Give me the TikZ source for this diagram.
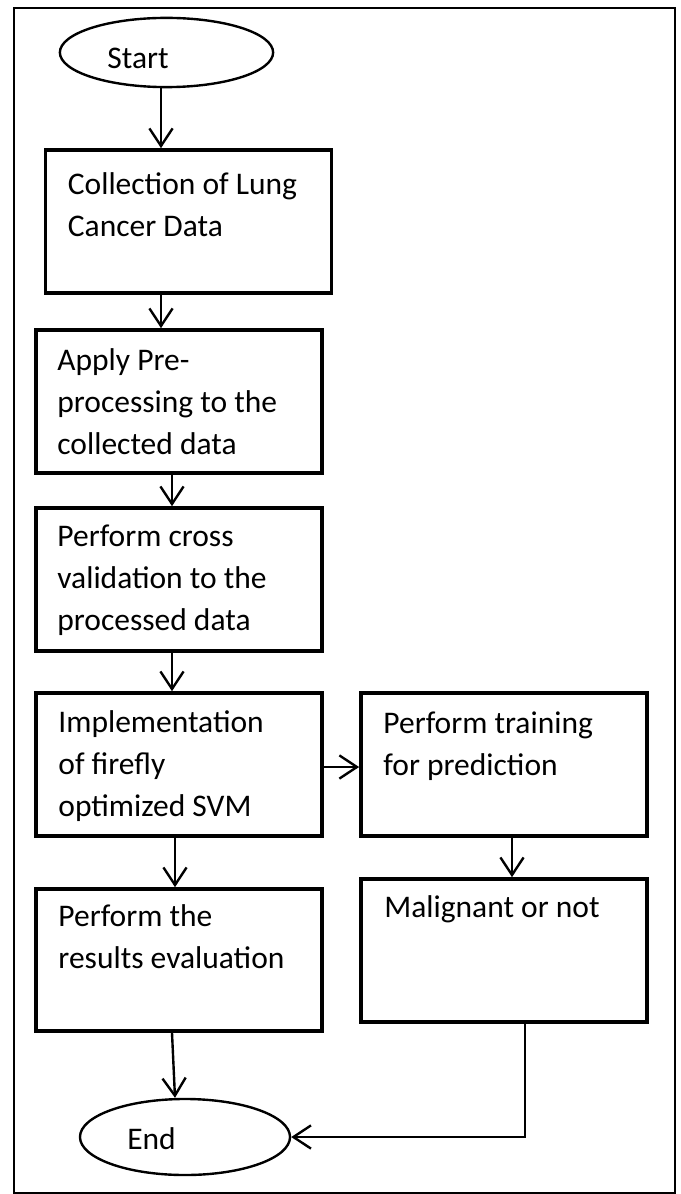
\documentclass[tikz,border=0pt]{standalone}
\usepackage{fontspec}
\setmainfont{Carlito}
\usetikzlibrary{arrows.meta}
\usetikzlibrary{shapes.geometric}
\usetikzlibrary{calc}
\usetikzlibrary{positioning}

\tikzset{
    procbox/.style={draw, rectangle, line width=2.6pt, minimum width=7.15cm, minimum height=3.575cm, inner sep=0pt},
    boxtext/.style={anchor=base west, align=left, inner sep=0pt, font=\fontsize{22.4pt}{29.9pt}\selectfont},
    term/.style={draw, ellipse, line width=1.7pt, inner sep=0pt},
    termtext/.style={inner sep=0pt, font=\fontsize{22.4pt}{29.9pt}\selectfont},
    arr/.style={line width=1.7pt, -{Straight Barb[length=12.5pt, width=16.5pt, line width=1.7pt]}},
}

\begin{document}
\begin{tikzpicture}[x=0.025cm, y=-0.025cm]
    \useasboundingbox (0,0) rectangle (681,1194);
    \draw[line width=0.9pt] (14,8) rectangle (675,1193);

    \coordinate (colA) at (161,0);
    \coordinate (colB) at (172,0);
    \coordinate (colC) at (175,0);
    \coordinate (colD) at (512,0);
    \coordinate (colE) at (525,0);
    \coordinate (rowF) at (0,767);

    \node[term, minimum width=5.33cm, minimum height=1.73cm] (start) at (166.5,52.5) {};
    \node[termtext] (starttext) at (138,58) {Start};

    % text anchored at the baseline of its last line
    \node[procbox] (b1) at (188.5,221.5) {};
    \node[boxtext] (t1) at ($(b1.north west)+(24,88)$) {Collection of Lung\\Cancer Data};

    \node[procbox] (b2) at (179,401.5) {};
    \node[boxtext] (t2) at ($(b2.north west)+(23,126)$) {Apply Pre-\\processing to the\\collected data};

    \node[procbox] (b3) at (179,579.5) {};
    \node[boxtext] (t3) at ($(b3.north west)+(23,124)$) {Perform cross\\validation to the\\processed data};

    \node[procbox] (b4) at (179,764.5) {};
    \node[boxtext] (t4) at ($(b4.north west)+(24,125)$) {Implementation\\of firefly\\optimized SVM};

    \node[procbox] (b5) at (504,764.5) {};
    \node[boxtext] (t5) at ($(b5.north west)+(24,84)$) {Perform training\\for prediction};

    \node[procbox, minimum height=3.55cm] (b6) at (179,960) {};
    \node[boxtext] (t6) at ($(b6.north west)+(24,81)$) {Perform the\\results evaluation};

    \node[procbox] (b7) at (504,950.5) {};
    \node[boxtext] (t7) at ($(b7.north west)+(25,40)$) {Malignant or not};

    \node[term, minimum width=5.25cm, minimum height=1.9cm] (end) at (185,1137) {};
    \node[termtext] (endtext) at (151.5,1139) {End};

    \draw[arr] (start.south -| colA) -- (b1.north -| colA);
    \draw[arr] (b1.south -| colA) -- (b2.north -| colA);
    \draw[arr] (b2.south -| colB) -- (b3.north -| colB);
    \draw[arr] (b3.south -| colB) -- (b4.north -| colB);
    \draw[arr] (b4.east |- rowF) -- (b5.west |- rowF);
    \draw[arr] (b4.south -| colC) -- (b6.north -| colC);
    \draw[arr] (b5.south -| colD) -- (b7.north -| colD);
    \draw[arr] (b6.south -| colB) -- (end.north -| colC);
    \draw[arr] (b7.south -| colE) |- (end.east);

\end{tikzpicture}
\end{document}
